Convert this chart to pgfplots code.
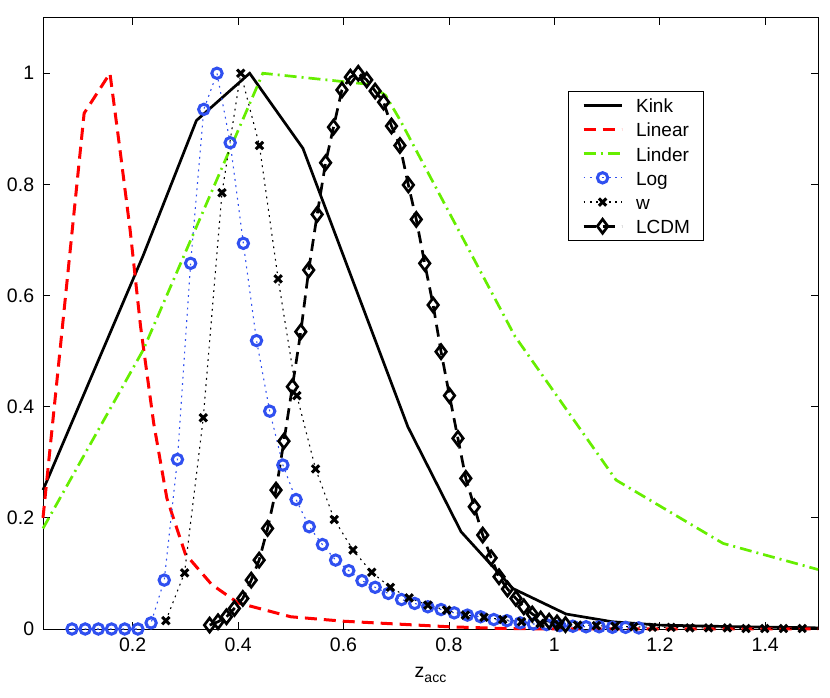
\documentclass[border=0pt]{standalone}
\usepackage{pgfplots}
\pgfplotsset{compat=1.18}
\usepackage{fontspec}
\setmainfont{Liberation Sans}
\definecolor{mblue}{RGB}{48,80,240}
\definecolor{mgreen}{RGB}{102,238,0}
\begin{document}
\fontsize{19.5bp}{23bp}\selectfont
\begin{tikzpicture}
\useasboundingbox (0,0) rectangle (830bp,698bp);
\begin{axis}[
  at={(43bp,69bp)}, anchor=south west,
  scale only axis, width=775bp, height=611.3bp,
  xmin=0.03, xmax=1.5, ymin=0, ymax=1.1,
  clip=false,
  axis line style={line width=0.8bp},
  tick align=inside, tick style={black, line width=0.8bp}, major tick length=7.5bp,
  xtick={0.2,0.4,0.6,0.8,1,1.2,1.4},
  xticklabels={0.2,0.4,0.6,0.8,1,1.2,1.4},
  ytick={0,0.2,0.4,0.6,0.8,1},
  yticklabels={0,0.2,0.4,0.6,0.8,1},
  ticklabel style={font=\fontsize{19.5bp}{23bp}\selectfont},
  xticklabel style={anchor=north, inner sep=0pt, yshift=-9bp},
  yticklabel style={anchor=east, inner sep=0pt, xshift=-8.7bp},
  xlabel={z\raisebox{-5bp}{\fontsize{14bp}{14bp}\selectfont acc}},
  xlabel style={at={(axis description cs:0.5,0)}, anchor=base, yshift=-49bp, inner sep=0pt, font=\fontsize{19.5bp}{23bp}\selectfont},
  legend image code/.code={\draw[mark repeat=2,mark phase=2,#1] plot coordinates {(0bp,0bp) (19bp,0bp) (38bp,0bp)};},
  legend cell align=left,
  legend style={at={(0.6778,0.8806)}, anchor=north west, draw=black, line width=0.8bp, fill=white,
    inner xsep=13.4bp, inner ysep=4bp, row sep=3.9bp,
    nodes={inner sep=0pt, text height=17.6bp, text depth=2.7bp},
    /tikz/every odd column/.append style={column sep=13bp},
    font=\fontsize{19bp}{23bp}\selectfont},
]
% Kink
\addplot[black, line width=2.7bp] coordinates {
(0.03,0.25) (0.12,0.45) (0.22,0.672) (0.321,0.915) (0.422,1.0) (0.523,0.865)
(0.722,0.364) (0.823,0.175) (0.921,0.073) (1.022,0.027) (1.11,0.013) (1.2,0.007)
(1.35,0.004) (1.5,0.002)};
\addlegendentry{Kink}
% Linear
\addplot[red, line width=3bp, dash pattern=on 12bp off 7bp] coordinates {
(0.03,0.2) (0.108,0.928) (0.157,1.0) (0.175,0.87) (0.195,0.72) (0.215,0.545)
(0.24,0.37) (0.265,0.235) (0.3,0.135) (0.35,0.08) (0.4,0.047) (0.5,0.022)
(0.6,0.014) (0.7,0.009) (0.8,0.004) (0.9,0.001) (1.0,0.0) (1.5,0.0)};
\addlegendentry{Linear}
% Linder
\addplot[mgreen, line width=2.7bp, dash pattern=on 12bp off 5bp on 2bp off 5bp] coordinates {
(0.03,0.181) (0.22,0.502) (0.447,1.0) (0.65,0.98) (0.68,0.96) (0.706,0.918)
(0.925,0.527) (1.117,0.268) (1.32,0.154) (1.5,0.107)};
\addlegendentry{Linder}
% Log
\addplot[mblue, line width=1.1bp, dash pattern=on 1.8bp off 4.5bp, mark=o, mark size=5.2bp, mark options={solid, line width=3bp}] coordinates {
(0.085,0) (0.11,0) (0.135,0) (0.16,0) (0.185,0) (0.21,0) (0.235,0.011) (0.26,0.088)
(0.285,0.305) (0.31,0.658) (0.335,0.935) (0.36,1.0) (0.385,0.875) (0.41,0.694)
(0.435,0.519) (0.46,0.392) (0.485,0.295) (0.51,0.233) (0.535,0.184) (0.56,0.152)
(0.585,0.124) (0.61,0.105) (0.635,0.087) (0.66,0.075) (0.685,0.064) (0.71,0.053)
(0.735,0.046) (0.76,0.040) (0.785,0.035) (0.81,0.029) (0.835,0.025) (0.86,0.022)
(0.885,0.017) (0.91,0.015) (0.935,0.011) (0.96,0.009) (0.985,0.008) (1.01,0.006)
(1.035,0.005) (1.06,0.004) (1.085,0.004) (1.11,0.003) (1.135,0.003) (1.16,0.002)};
\addlegendentry{Log}
% w
\addplot[black, line width=1.1bp, dash pattern=on 1.8bp off 4.5bp, mark=x, mark size=5.2bp, mark options={solid, line width=3bp}] coordinates {
(0.263,0.015) (0.2985,0.101) (0.334,0.38) (0.3695,0.785) (0.405,1.0) (0.4405,0.87)
(0.476,0.63) (0.5115,0.42) (0.547,0.288) (0.5825,0.197) (0.618,0.142) (0.6535,0.102)
(0.689,0.075) (0.7245,0.056) (0.76,0.043) (0.7955,0.034) (0.831,0.025) (0.8665,0.021)
(0.902,0.017) (0.9375,0.013) (0.973,0.01) (1.0085,0.008) (1.044,0.007) (1.0795,0.006)
(1.115,0.005) (1.1505,0.004) (1.186,0.003) (1.2215,0.003) (1.257,0.002) (1.2925,0.002)
(1.328,0.002) (1.3635,0.001) (1.399,0.001) (1.4345,0.001) (1.47,0.001)};
\addlegendentry{w}
% LCDM
\addplot[black, line width=2.7bp, dash pattern=on 12bp off 7bp, mark=diamond, mark size=7bp, mark options={solid, line width=2.7bp}] coordinates {
(0.346,0.007) (0.362,0.013) (0.378,0.022) (0.393,0.037) (0.409,0.055) (0.425,0.088)
(0.440,0.124) (0.456,0.181) (0.472,0.250) (0.487,0.338) (0.503,0.436) (0.519,0.535)
(0.534,0.646) (0.550,0.746) (0.566,0.839) (0.581,0.903) (0.597,0.970) (0.613,0.993)
(0.628,1.0) (0.644,0.988) (0.660,0.968) (0.676,0.948) (0.691,0.905) (0.707,0.870)
(0.723,0.799) (0.738,0.737) (0.754,0.658) (0.770,0.583) (0.785,0.499) (0.801,0.420)
(0.817,0.343) (0.832,0.271) (0.848,0.220) (0.864,0.169) (0.880,0.128) (0.895,0.094)
(0.911,0.072) (0.927,0.055) (0.942,0.040) (0.958,0.027) (0.974,0.018) (0.990,0.014)
(1.005,0.011) (1.021,0.008)};
\addlegendentry{LCDM}
\end{axis}
\end{tikzpicture}
\end{document}
